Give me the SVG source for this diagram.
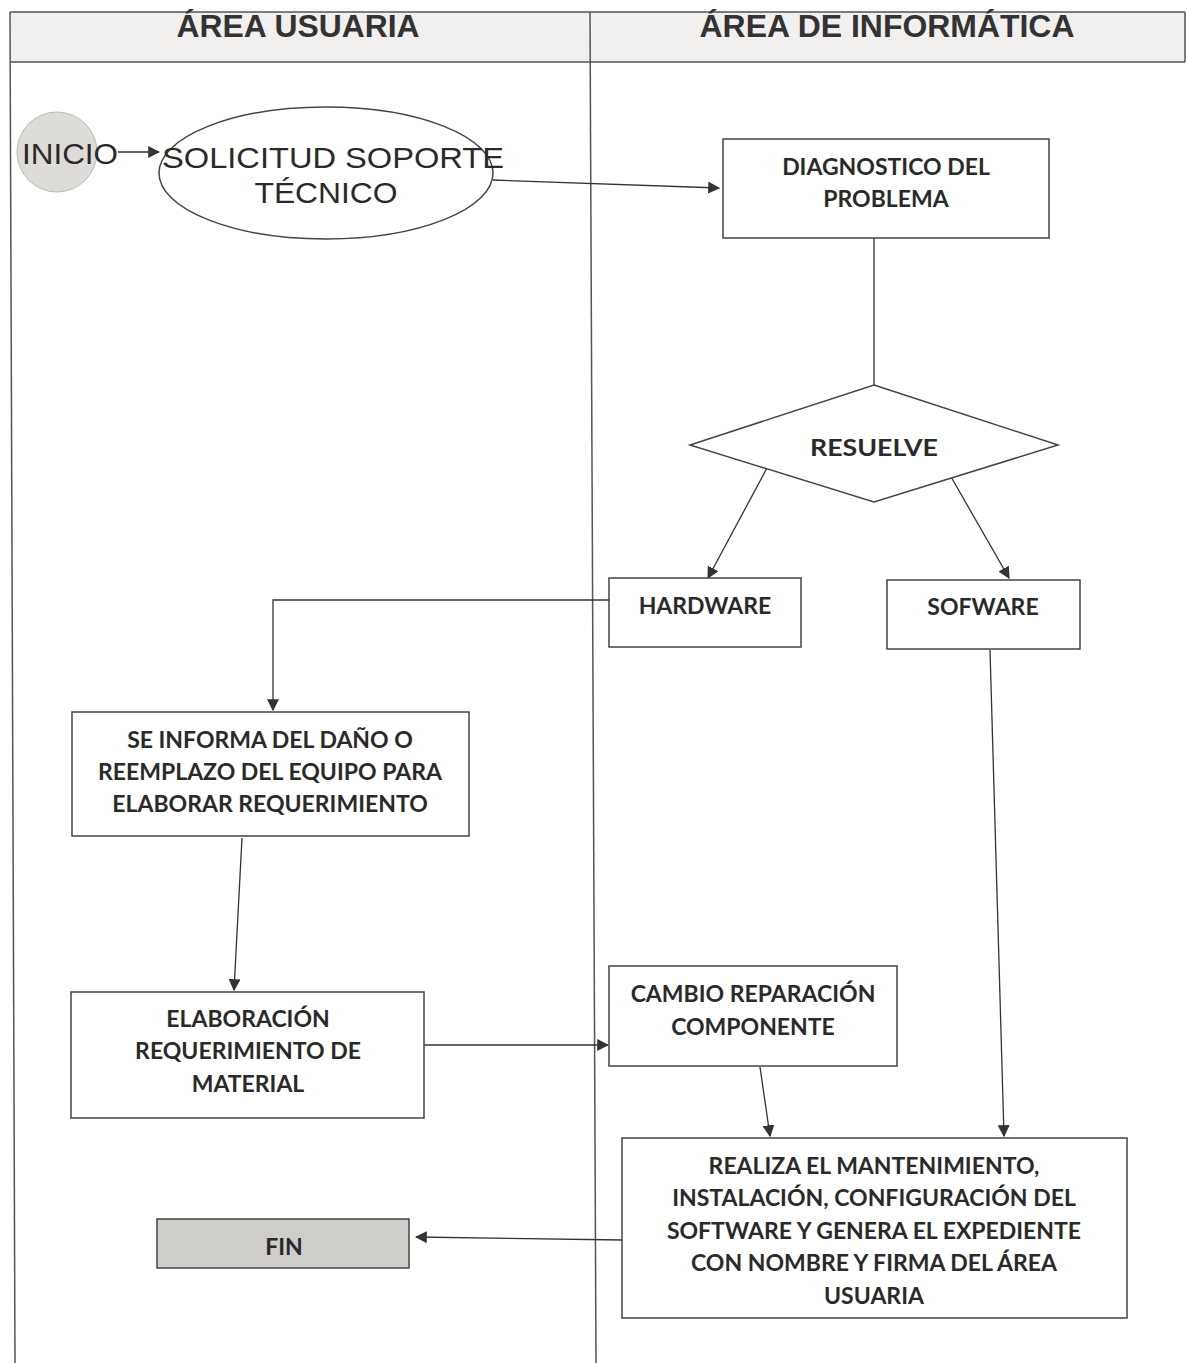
<svg xmlns="http://www.w3.org/2000/svg" width="1187" height="1363" viewBox="0 0 1187 1363">
<style>
.frame{fill:none;stroke:#555;stroke-width:1.5}
.box{fill:#fff;stroke:#444;stroke-width:1.5}
.hdr{font-family:"Liberation Sans",Arial,sans-serif;font-weight:bold;font-size:31px;fill:#333;text-anchor:middle}
.arial{font-family:"Liberation Sans",Arial,sans-serif;font-size:30px;fill:#2a2a2a;text-anchor:middle}
.cal{font-family:Lato,"Open Sans",sans-serif;font-weight:bold;font-size:23px;fill:#2a2a2a;text-anchor:middle}
.conn{fill:none;stroke:#333;stroke-width:1.3}
</style>
<defs>
<marker id="ah" viewBox="0 0 10 10" refX="9" refY="5" markerWidth="12" markerHeight="12" markerUnits="userSpaceOnUse" orient="auto">
<path d="M0,0 L10,5 L0,10 z" fill="#333"/>
</marker>
</defs>
<rect width="1187" height="1363" fill="#fff"/>
<g id="lanes">
<rect x="10" y="12" width="1175" height="50" fill="#f1f0ee"/>
<line class="frame" x1="10" y1="12" x2="1185" y2="12"/>
<line class="frame" x1="10" y1="62" x2="1185" y2="62"/>
<line class="frame" x1="10" y1="12" x2="15" y2="1363"/>
<line class="frame" x1="590" y1="12" x2="596" y2="1363"/>
<line class="frame" x1="1185" y1="12" x2="1185" y2="62"/>
<text class="hdr" x="298" y="37" textLength="243" lengthAdjust="spacingAndGlyphs">ÁREA USUARIA</text>
<text class="hdr" x="887" y="37" textLength="375" lengthAdjust="spacingAndGlyphs">ÁREA DE INFORMÁTICA</text>
</g>
<g id="connectors">
<line class="conn" x1="118" y1="152" x2="159" y2="152" marker-end="url(#ah)"/>
<line class="conn" x1="493" y1="180" x2="719" y2="188" marker-end="url(#ah)"/>
<line class="conn" x1="874" y1="238" x2="874" y2="385"/>
<line class="conn" x1="767" y1="468" x2="708" y2="578" marker-end="url(#ah)"/>
<line class="conn" x1="950" y1="475" x2="1009" y2="578" marker-end="url(#ah)"/>
<polyline class="conn" points="609,600 273,600 273,710" marker-end="url(#ah)"/>
<line class="conn" x1="242" y1="838" x2="234" y2="990" marker-end="url(#ah)"/>
<line class="conn" x1="424" y1="1045" x2="608" y2="1045" marker-end="url(#ah)"/>
<line class="conn" x1="760" y1="1067" x2="770" y2="1136" marker-end="url(#ah)"/>
<line class="conn" x1="990" y1="650" x2="1004" y2="1136" marker-end="url(#ah)"/>
<line class="conn" x1="622" y1="1240" x2="416" y2="1237" marker-end="url(#ah)"/>
</g>
<g id="inicio">
<circle cx="57" cy="152" r="40" fill="#dedcd9" stroke="#bbb" stroke-width="1"/>
<text class="arial" x="70" y="164" font-size="28" textLength="96" lengthAdjust="spacingAndGlyphs">INICIO</text>
</g>
<g id="solicitud">
<ellipse cx="326" cy="173" rx="167" ry="66" class="box"/>
<text class="arial" x="333" y="168" textLength="342" lengthAdjust="spacingAndGlyphs">SOLICITUD SOPORTE</text>
<text class="arial" x="326" y="203" textLength="143" lengthAdjust="spacingAndGlyphs">TÉCNICO</text>
</g>
<g id="diagnostico">
<rect class="box" x="723" y="139" width="326" height="99"/>
<text class="cal" x="886" y="175">DIAGNOSTICO DEL</text>
<text class="cal" x="886" y="207">PROBLEMA</text>
</g>
<g id="resuelve">
<polygon class="box" points="874,385 1058,445 874,502 690,445"/>
<text class="cal" x="874" y="456" font-size="28" textLength="128" lengthAdjust="spacingAndGlyphs">RESUELVE</text>
</g>
<g id="hardware">
<rect class="box" x="609" y="578" width="192" height="69"/>
<text class="cal" x="705" y="614">HARDWARE</text>
</g>
<g id="sofware">
<rect class="box" x="887" y="580" width="193" height="69"/>
<text class="cal" x="983" y="615">SOFWARE</text>
</g>
<g id="informa">
<rect class="box" x="72" y="712" width="397" height="124"/>
<text class="cal" x="270" y="748">SE INFORMA DEL DAÑO O</text>
<text class="cal" x="270" y="780">REEMPLAZO DEL EQUIPO PARA</text>
<text class="cal" x="270" y="812">ELABORAR REQUERIMIENTO</text>
</g>
<g id="elaboracion">
<rect class="box" x="71" y="992" width="353" height="126"/>
<text class="cal" x="248" y="1027">ELABORACIÓN</text>
<text class="cal" x="248" y="1059">REQUERIMIENTO DE</text>
<text class="cal" x="248" y="1092">MATERIAL</text>
</g>
<g id="cambio">
<rect class="box" x="609" y="966" width="288" height="100"/>
<text class="cal" x="753" y="1002">CAMBIO REPARACIÓN</text>
<text class="cal" x="753" y="1035">COMPONENTE</text>
</g>
<g id="realiza">
<rect class="box" x="622" y="1138" width="505" height="180"/>
<text class="cal" x="874" y="1174">REALIZA EL MANTENIMIENTO,</text>
<text class="cal" x="874" y="1206">INSTALACIÓN, CONFIGURACIÓN DEL</text>
<text class="cal" x="874" y="1239">SOFTWARE Y GENERA EL EXPEDIENTE</text>
<text class="cal" x="874" y="1271">CON NOMBRE Y FIRMA DEL ÁREA</text>
<text class="cal" x="874" y="1304">USUARIA</text>
</g>
<g id="fin">
<rect x="157" y="1219" width="252" height="49" fill="#cfcdca" stroke="#444" stroke-width="1.5"/>
<text class="cal" x="284" y="1255">FIN</text>
</g>
</svg>
